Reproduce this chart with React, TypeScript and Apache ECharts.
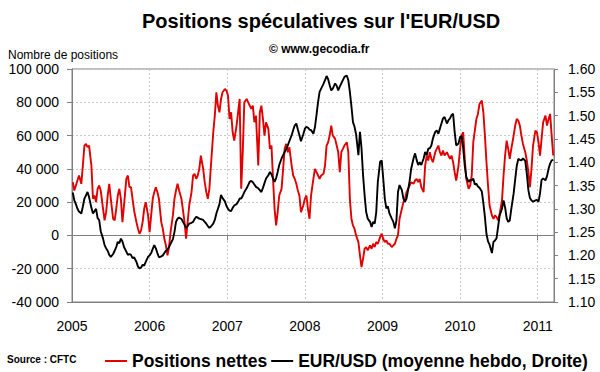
import { useEffect, useRef } from "react";
import * as echarts from "echarts";

const years = [2005.01,2005.03,2005.05,2005.07,2005.09,2005.12,2005.14,2005.16,2005.18,2005.20,
2005.22,2005.25,2005.27,2005.29,2005.31,2005.33,2005.35,2005.37,2005.40,2005.42,
2005.44,2005.46,2005.48,2005.50,2005.53,2005.55,2005.57,2005.59,2005.61,2005.63,
2005.65,2005.67,2005.70,2005.72,2005.74,2005.76,2005.78,2005.80,2005.83,2005.85,
2005.87,2005.89,2005.91,2005.93,2005.95,2005.98,2006.00,2006.02,2006.04,2006.06,
2006.08,2006.10,2006.12,2006.15,2006.17,2006.19,2006.21,2006.23,2006.25,2006.27,
2006.30,2006.32,2006.34,2006.36,2006.38,2006.41,2006.43,2006.45,2006.47,2006.49,
2006.51,2006.54,2006.56,2006.58,2006.60,2006.62,2006.64,2006.66,2006.69,2006.71,
2006.73,2006.75,2006.77,2006.79,2006.82,2006.84,2006.86,2006.88,2006.90,2006.92,
2006.94,2006.97,2006.99,2007.01,2007.03,2007.05,2007.07,2007.09,2007.12,2007.14,
2007.16,2007.18,2007.20,2007.22,2007.25,2007.27,2007.29,2007.31,2007.33,2007.35,
2007.37,2007.40,2007.42,2007.44,2007.46,2007.48,2007.50,2007.53,2007.55,2007.57,
2007.59,2007.61,2007.63,2007.65,2007.67,2007.70,2007.72,2007.74,2007.76,2007.78,
2007.80,2007.83,2007.85,2007.87,2007.89,2007.91,2007.93,2007.95,2007.98,2008.00,
2008.02,2008.04,2008.06,2008.08,2008.11,2008.13,2008.15,2008.17,2008.19,2008.21,
2008.24,2008.26,2008.28,2008.30,2008.32,2008.34,2008.36,2008.39,2008.41,2008.43,
2008.45,2008.47,2008.49,2008.51,2008.54,2008.56,2008.58,2008.60,2008.62,2008.64,
2008.66,2008.69,2008.71,2008.73,2008.75,2008.77,2008.79,2008.81,2008.84,2008.86,
2008.88,2008.90,2008.92,2008.94,2008.97,2008.99,2009.01,2009.03,2009.05,2009.07,
2009.09,2009.12,2009.14,2009.16,2009.18,2009.20,2009.22,2009.25,2009.27,2009.29,
2009.31,2009.33,2009.35,2009.37,2009.40,2009.42,2009.44,2009.46,2009.48,2009.50,
2009.53,2009.55,2009.57,2009.59,2009.61,2009.63,2009.65,2009.68,2009.70,2009.72,
2009.74,2009.76,2009.78,2009.80,2009.83,2009.85,2009.87,2009.89,2009.91,2009.93,
2009.95,2009.98,2010.00,2010.02,2010.04,2010.06,2010.08,2010.11,2010.13,2010.15,
2010.17,2010.19,2010.21,2010.23,2010.25,2010.28,2010.30,2010.32,2010.34,2010.36,
2010.38,2010.41,2010.43,2010.45,2010.47,2010.49,2010.51,2010.54,2010.56,2010.58,
2010.60,2010.62,2010.64,2010.66,2010.69,2010.71,2010.73,2010.75,2010.77,2010.79,
2010.81,2010.84,2010.86,2010.88,2010.90,2010.92,2010.94,2010.97,2010.99,2011.01,
2011.03,2011.05,2011.07,2011.10,2011.12,2011.14,2011.16,2011.18,2011.20];

const netPositions = [32000,27000,30000,33000,36000,31000,42000,54000,55000,53000,
54000,42000,22000,24000,20000,28000,30000,27000,16000,9000,
14000,24000,31000,22000,10000,9000,16000,24000,28000,22000,
8000,18000,34000,36000,29000,29000,22000,15000,8000,4000,
1000,3000,8000,16000,20000,12000,2000,12000,22000,26000,
29000,26000,22000,8000,4000,-2000,-6000,-12000,-7000,2000,
12000,22000,27000,31000,27000,22000,15000,8000,-2000,8000,
18000,26000,36000,37000,34000,36000,40000,48000,40000,32000,
26000,22000,28000,42000,62000,72000,86000,78000,74000,82000,
86000,88000,87000,84000,70000,74000,62000,57000,66000,74000,
82000,28000,50000,80000,82000,80000,78000,76000,78000,68000,
72000,42000,74000,78000,70000,60000,68000,64000,52000,54000,
34000,16000,6000,14000,24000,28000,40000,52000,55000,50000,
53000,42000,36000,34000,31000,27000,24000,14000,18000,22000,
24000,16000,10000,24000,34000,40000,38000,36000,34000,36000,
37000,42000,54000,56000,60000,66000,60000,58000,54000,50000,
38000,50000,52000,54000,56000,50000,22000,10000,6000,4000,
0,-4000,-12000,-19000,-14000,-8000,-7000,-9000,-6000,-8000,
-5000,-7000,-4000,-5000,-1000,1000,-2000,-4000,-3000,-5000,
-5000,-7000,-6000,-5000,-2000,0,10000,16000,20000,22000,
26000,28000,30000,32000,31000,33000,34000,32000,34000,29000,
26000,42000,48000,45000,50000,46000,44000,50000,52000,54000,
50000,48000,51000,48000,50000,48000,46000,48000,44000,38000,
33000,42000,52000,60000,62000,46000,34000,28000,30000,36000,
56000,63000,70000,73000,79000,81000,74000,60000,44000,30000,
18000,12000,10000,12000,11000,9000,13000,21000,36000,48000,
57000,52000,46000,52000,60000,66000,70000,69000,66000,60000,
55000,50000,45000,38000,29000,40000,54000,63000,62000,56000,
48000,58000,68000,72000,66000,70000,73000,60000,48000];

const eurUsd = [1.335,1.318,1.31,1.30,1.294,1.29,1.305,1.322,1.329,1.336,
1.325,1.302,1.29,1.295,1.30,1.28,1.276,1.252,1.236,1.222,
1.215,1.21,1.201,1.197,1.203,1.21,1.218,1.229,1.226,1.236,
1.23,1.218,1.208,1.201,1.203,1.201,1.194,1.196,1.186,1.176,
1.172,1.174,1.18,1.178,1.186,1.197,1.20,1.205,1.214,1.222,
1.215,1.205,1.196,1.198,1.20,1.205,1.21,1.212,1.218,1.225,
1.235,1.25,1.272,1.279,1.281,1.278,1.272,1.266,1.259,1.263,
1.268,1.27,1.272,1.278,1.283,1.281,1.279,1.278,1.276,1.272,
1.268,1.263,1.259,1.262,1.268,1.276,1.29,1.30,1.31,1.33,
1.323,1.316,1.306,1.30,1.296,1.295,1.302,1.307,1.31,1.315,
1.322,1.322,1.328,1.336,1.344,1.351,1.358,1.36,1.357,1.352,
1.347,1.344,1.34,1.336,1.345,1.355,1.365,1.372,1.379,1.374,
1.365,1.358,1.366,1.379,1.394,1.408,1.415,1.422,1.428,1.436,
1.445,1.458,1.469,1.479,1.483,1.47,1.458,1.445,1.46,1.472,
1.476,1.474,1.47,1.469,1.461,1.475,1.501,1.529,1.551,1.558,
1.568,1.576,1.585,1.578,1.565,1.554,1.558,1.569,1.564,1.554,
1.562,1.569,1.576,1.583,1.586,1.576,1.551,1.52,1.486,1.476,
1.46,1.415,1.465,1.43,1.372,1.329,1.293,1.279,1.272,1.261,
1.272,1.268,1.293,1.358,1.401,1.404,1.365,1.322,1.301,1.305,
1.29,1.279,1.272,1.258,1.275,1.336,1.351,1.34,1.322,1.315,
1.322,1.34,1.36,1.386,1.408,1.419,1.405,1.394,1.40,1.394,
1.408,1.422,1.415,1.429,1.43,1.436,1.451,1.465,1.468,1.461,
1.472,1.483,1.494,1.497,1.483,1.49,1.494,1.501,1.504,1.465,
1.436,1.44,1.454,1.456,1.43,1.393,1.368,1.358,1.362,1.361,
1.365,1.352,1.354,1.348,1.345,1.337,1.312,1.282,1.246,1.23,
1.223,1.205,1.229,1.232,1.237,1.262,1.286,1.30,1.318,1.303,
1.28,1.272,1.275,1.30,1.333,1.363,1.392,1.407,1.405,1.404,
1.408,1.403,1.375,1.34,1.323,1.318,1.315,1.318,1.319,1.315,
1.333,1.362,1.365,1.361,1.37,1.386,1.397,1.404,1.405];

const seriesNames = ["Positions nettes", "EUR/USD (moyenne hebdo, Droite)"];

export default function App() {
  const ref = useRef<HTMLDivElement>(null);
  useEffect(() => {
    document.body.style.margin = "0";
    const chart = echarts.init(ref.current!, null, { renderer: "svg" });
    const font = "'Liberation Sans', Arial, sans-serif";
    const fmtThousands = (v: number) => {
      const s = Math.abs(v).toFixed(0).replace(/\B(?=(\d{3})+(?!\d))/g, " ");
      return (v < 0 ? "-" : "") + s;
    };
    chart.setOption({
      animation: false,
      backgroundColor: "#ffffff",
      textStyle: { fontFamily: font },
      title: [
        { text: "Positions spéculatives sur l'EUR/USD", left: 142, top: 11, padding: 0,
          textStyle: { fontSize: 20, fontWeight: "bold", color: "#000", fontFamily: font } },
        { text: "© www.gecodia.fr", left: 269, top: 43, padding: 0,
          textStyle: { fontSize: 12, fontWeight: "bold", color: "#000", fontFamily: font } },
        { text: "Nombre de positions", left: 8, top: 49, padding: 0,
          textStyle: { fontSize: 12, fontWeight: "normal", color: "#000", fontFamily: font } },
        { text: "Source : CFTC", left: 7, top: 354, padding: 0,
          textStyle: { fontSize: 10, fontWeight: "bold", color: "#000", fontFamily: font } },
      ],
      legend: {
        left: 105, top: 352, padding: 0, itemGap: 4, itemWidth: 22, itemHeight: 2, icon: "rect",
        textStyle: { fontSize: 17.5, fontWeight: "bold", color: "#000", fontFamily: font },
        data: seriesNames,
      },
      grid: { left: 72, right: 46, top: 69, bottom: 70, show: true, borderColor: "#808080", borderWidth: 1 },
      xAxis: [
        {
          type: "value", min: 2005, max: 2011.21, interval: 1,
          axisLine: { onZero: false, lineStyle: { color: "#808080" } },
          axisTick: { show: false },
          axisLabel: { showMaxLabel: false, margin: 17, fontSize: 14, color: "#000", fontFamily: font,
            formatter: (v: number) => String(Math.round(v)) },
          splitLine: { show: true, lineStyle: { color: "#c8c8c8", type: [2, 2] } },
        },
        {
          type: "value", min: 2005, max: 2011.21, interval: 1, position: "bottom",
          axisLine: { onZero: true, lineStyle: { color: "#808080" } },
          axisTick: { show: true, inside: false, length: 5, lineStyle: { color: "#808080" } },
          axisLabel: { show: false },
          splitLine: { show: false },
        },
      ],
      yAxis: [
        {
          type: "value", min: -40000, max: 100000, interval: 20000, position: "left",
          axisLine: { show: true, lineStyle: { color: "#808080" } },
          axisTick: { show: true, length: 5, lineStyle: { color: "#808080" } },
          axisLabel: { fontSize: 14, color: "#000", margin: 13, fontFamily: font, formatter: fmtThousands },
          splitLine: { show: true, lineStyle: { color: "#c8c8c8", type: [2, 2] } },
        },
        {
          type: "value", min: 1.1, max: 1.6, interval: 0.05, position: "right",
          axisLine: { show: true, lineStyle: { color: "#808080" } },
          axisTick: { show: true, length: 4, lineStyle: { color: "#808080" } },
          axisLabel: { fontSize: 14, color: "#000", margin: 14, fontFamily: font,
            formatter: (v: number) => v.toFixed(2) },
          splitLine: { show: false },
        },
      ],
      series: [
        {
          name: seriesNames[0], type: "line", xAxisIndex: 0, yAxisIndex: 0,
          data: years.map((y, i) => [y, netPositions[i]]),
          symbol: "none", showSymbol: false,
          lineStyle: { color: "#e00000", width: 1.9 }, itemStyle: { color: "#e00000" }, z: 2,
        },
        {
          name: seriesNames[1], type: "line", xAxisIndex: 0, yAxisIndex: 1,
          data: years.map((y, i) => [y, eurUsd[i]]),
          symbol: "none", showSymbol: false,
          lineStyle: { color: "#000000", width: 1.9 }, itemStyle: { color: "#000000" }, z: 3,
        },
      ],
    });
    return () => chart.dispose();
  }, []);
  return <div ref={ref} style={{ width: 600, height: 372 }} />;
}
